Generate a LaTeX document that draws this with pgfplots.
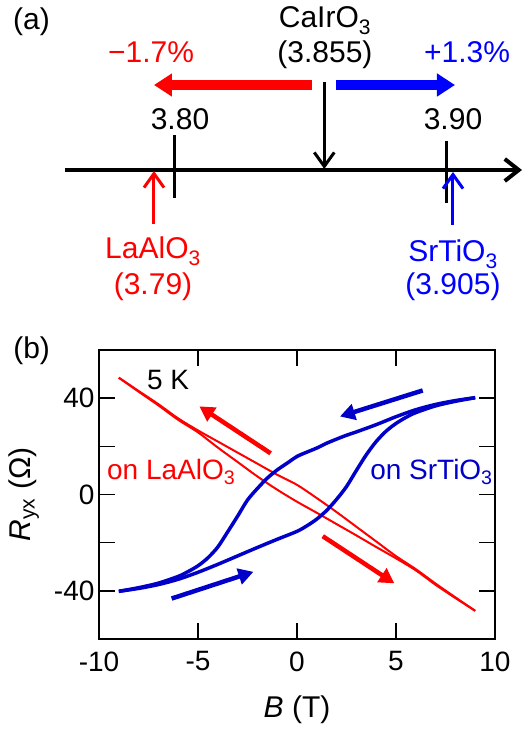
\documentclass[border=0pt]{standalone}
\usepackage{fontspec}
\setmainfont{Liberation Sans}
\usepackage{pgfplots}
\pgfplotsset{compat=1.18}
\usetikzlibrary{arrows.meta}
\definecolor{pr}{RGB}{255,0,0}
\definecolor{pb}{RGB}{0,0,255}
\definecolor{db}{RGB}{0,0,200}
\newcommand\fa{\fontsize{30pt}{34pt}\selectfont}
\newcommand\fb{\fontsize{28pt}{32pt}\selectfont}
\begin{document}
\begin{tikzpicture}
\useasboundingbox (0,0) rectangle (524pt,732pt);
% ---------------- panel (a) ----------------
\begin{axis}[at={(0pt,412pt)}, anchor=south west, scale only axis,
  width=524pt, height=320pt, xmin=3.73626, xmax=3.92821, ymin=-320, ymax=0,
  hide axis, clip=false]
\node[anchor=base west, inner sep=0pt, font=\fa] at (axis cs:3.74103,-30) {(a)};
% number line
\draw[line width=4pt, -{Straight Barb[length=14pt,width=22pt,line width=4pt]}] (axis cs:3.76007,-170) -- (axis cs:3.92747,-170);
\draw[line width=3pt] (axis cs:3.80,-135) -- (axis cs:3.80,-198);
\draw[line width=3pt] (axis cs:3.90,-141) -- (axis cs:3.90,-203);
\node[anchor=base, inner sep=0pt, font=\fa] at (axis cs:3.8022,-130) {3.80};
\node[anchor=base, inner sep=0pt, font=\fa] at (axis cs:3.9022,-130) {3.90};
% CaIrO3
\draw[line width=3pt, -{Straight Barb[length=14pt,width=20pt,line width=3pt]}] (axis cs:3.85505,-82) -- (axis cs:3.85505,-169);
\node[anchor=base, inner sep=0pt, font=\fa] at (axis cs:3.8553,-28) {CaIrO\textsubscript{3}};
\node[anchor=base, inner sep=0pt, font=\fa] at (axis cs:3.8553,-63) {(3.855)};
% strain arrows
\draw[pr, line width=10pt, -{Triangle[length=18pt,width=22pt]}] (axis cs:3.85055,-85) -- (axis cs:3.79267,-85);
\draw[pb, line width=10pt, -{Triangle[length=18pt,width=22pt]}] (axis cs:3.85934,-85) -- (axis cs:3.90293,-85);
\node[anchor=base, inner sep=0pt, font=\fa, text=pr] at (axis cs:3.79158,-63) {−1.7\%};
\node[anchor=base, inner sep=0pt, font=\fa, text=pb] at (axis cs:3.90733,-63) {+1.3\%};
% substrates
\draw[pr, line width=3pt, -{Straight Barb[length=14pt,width=20pt,line width=3pt]}] (axis cs:3.79267,-224) -- (axis cs:3.79267,-171);
\draw[pb, line width=3pt, -{Straight Barb[length=14pt,width=20pt,line width=3pt]}] (axis cs:3.90220,-225) -- (axis cs:3.90220,-172);
\node[anchor=base, inner sep=0pt, font=\fa, text=pr] at (axis cs:3.79231,-259) {LaAlO\textsubscript{3}};
\node[anchor=base, inner sep=0pt, font=\fa, text=pr] at (axis cs:3.79231,-295) {(3.79)};
\node[anchor=base, inner sep=0pt, font=\fa, text=pb] at (axis cs:3.9022,-262) {SrTiO\textsubscript{3}};
\node[anchor=base, inner sep=0pt, font=\fa, text=pb] at (axis cs:3.9022,-295) {(3.905)};
\end{axis}
% ---------------- panel (b) ----------------
\begin{axis}[at={(99pt,93pt)}, anchor=south west, scale only axis,
  width=396pt, height=289pt, xmin=-10, xmax=10, ymin=-60, ymax=60,
  clip=false,
  axis line style={line width=1.5pt},
  major tick style={line width=1.5pt, black},
  major tick length=16pt, tick align=inside, tick pos=both,
  xtick={-10,-5,0,5,10}, xticklabels={-10,-5,0,5,10},
  ytick={-40,-20,0,20,40}, yticklabels={-40,,0,,40},
  tick label style={font=\fb},
  xticklabel style={yshift=-9pt},
  yticklabel style={xshift=-1pt},
  xlabel={\textit{B} (T)},
  every axis x label/.style={at={(axis description cs:0.5,-0.273)}, anchor=base, font=\fa, inner sep=0pt},
  ylabel={\textit{R}\textsubscript{yx} (Ω)},
  every axis y label/.style={at={(axis description cs:-0.189,0.5)}, rotate=90, anchor=center, font=\fa, inner sep=0pt},
]
% LaAlO3 (red), two branches
\addplot[pr, line width=2pt, smooth] coordinates {
(-9,48.5) (-8,43.0) (-7,37.5) (-6,31.6) (-5,26.6) (-4,22.0) (-3,17.4) (-2,12.8) (-1,8.2)
(0,4.0) (1,-1.5) (2,-7.3) (3,-13.4) (4,-19.5) (5,-25.6) (6,-31.0) (7,-37.0) (8,-42.7) (9,-48.3)};
\addplot[pr, line width=2pt, smooth] coordinates {
(-9,48.5) (-8,42.7) (-7,37.0) (-6,31.0) (-5,25.8) (-4,19.5) (-3,13.5) (-2,7.5) (-1,2.0)
(0,-3.0) (1,-7.6) (2,-12.3) (3,-17.0) (4,-21.8) (5,-26.5) (6,-31.5) (7,-37.5) (8,-43.0) (9,-48.3)};
% SrTiO3 (blue), sweep up and sweep down
\addplot[db, line width=3.5pt, smooth] coordinates {
(-9,-40.2) (-8,-39.0) (-7,-37.4) (-6,-35.2) (-5,-32.3) (-4,-29.0) (-3,-25.5) (-2,-22.0) (-1,-18.6)
(0,-15.3) (0.5,-13) (1,-10.2) (1.5,-6.6) (2,-2.0) (2.5,3.3) (3,10.0) (3.5,16.5) (4,22.0) (4.5,26.3)
(5,29.5) (5.5,32.0) (6,34.0) (7,36.8) (8,38.7) (9,40.2)};
\addplot[db, line width=3.5pt, smooth] coordinates {
(9,40.2) (8,39.0) (7,37.4) (6,35.2) (5,32.3) (4,29.0) (3,26.0) (2.5,24.6) (2,23.0) (1.5,21.3) (1,19.3)
(0.5,17.6) (0,15.8) (-0.5,13) (-1,10.2) (-1.5,6.8) (-2,2.5) (-2.5,-2.3) (-3,-9.0) (-3.5,-15.5) (-4,-21.8) (-4.5,-26.3)
(-5,-29.6) (-5.5,-32.0) (-6,-34.0) (-7,-36.8) (-8,-38.7) (-9,-40.2)};
% sweep arrows
\draw[pr, line width=4.5pt, -{Triangle[length=15pt,width=16pt]}] (axis cs:-1.33,17.1) -- (axis cs:-4.93,36.6);
\draw[pr, line width=4.5pt, -{Triangle[length=15pt,width=16pt]}] (axis cs:1.30,-17.3) -- (axis cs:4.92,-36.9);
\draw[db, line width=4.5pt, -{Triangle[length=15pt,width=16pt]}] (axis cs:6.35,43.2) -- (axis cs:2.17,32.4);
\draw[db, line width=4.5pt, -{Triangle[length=15pt,width=16pt]}] (axis cs:-6.33,-43.2) -- (axis cs:-2.2,-32.1);
% labels
\node[anchor=base west, inner sep=0pt, font=\fb] at (axis cs:-7.58,43.5) {5 K};
\node[anchor=base west, inner sep=0pt, font=\fb, text=pr] at (axis cs:-9.6,6.4) {on LaAlO\textsubscript{3}};
\node[anchor=base west, inner sep=0pt, font=\fb, text=db] at (axis cs:3.69,6.4) {on SrTiO\textsubscript{3}};
\node[anchor=base west, inner sep=0pt, font=\fa] at (axis cs:-14.34,56.3) {(b)};
\end{axis}
\end{tikzpicture}
\end{document}
